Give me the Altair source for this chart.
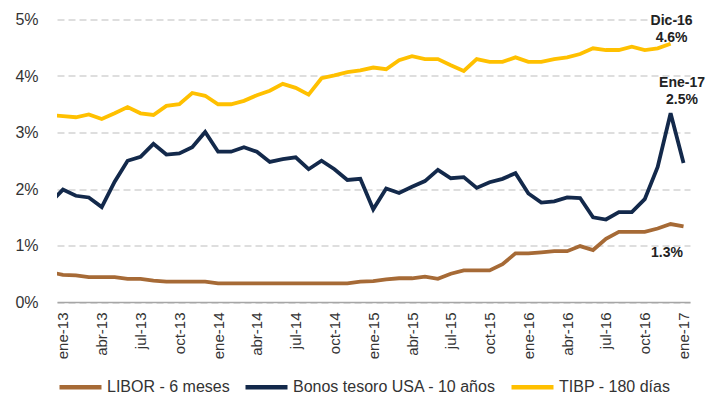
import altair as alt
import pandas as pd

# month index: -1 = dic-12 (clipped at left edge), 0 = ene-13 ... 48 = ene-17
month_idx = list(range(-1, 49))

libor = [0.53, 0.48, 0.47, 0.44, 0.44, 0.44, 0.41, 0.41, 0.38, 0.36,
         0.36, 0.36, 0.36, 0.33, 0.33, 0.33, 0.33, 0.33, 0.33, 0.33,
         0.33, 0.33, 0.33, 0.33, 0.36, 0.37, 0.40, 0.42, 0.42, 0.45,
         0.41, 0.50, 0.56, 0.56, 0.56, 0.67, 0.86, 0.86, 0.88, 0.90,
         0.90, 0.99, 0.92, 1.12, 1.24, 1.24, 1.24, 1.30, 1.38, 1.34]

bonos = [1.75, 1.99, 1.88, 1.85, 1.68, 2.13, 2.50, 2.57, 2.80, 2.61,
         2.63, 2.74, 3.01, 2.66, 2.66, 2.74, 2.66, 2.48, 2.53, 2.56,
         2.35, 2.50, 2.35, 2.16, 2.18, 1.64, 2.01, 1.93, 2.04, 2.14,
         2.34, 2.19, 2.21, 2.02, 2.12, 2.18, 2.28, 1.92, 1.76, 1.78,
         1.85, 1.84, 1.50, 1.46, 1.59, 1.59, 1.82, 2.39, 3.34, 2.46]

tibp = [3.31, 3.29, 3.27, 3.32, 3.24, 3.34, 3.45, 3.34, 3.31, 3.47,
        3.50, 3.70, 3.65, 3.50, 3.50, 3.56, 3.66, 3.74, 3.86, 3.79,
        3.67, 3.96, 4.01, 4.07, 4.10, 4.15, 4.12, 4.28, 4.35, 4.30,
        4.30, 4.19, 4.09, 4.30, 4.25, 4.25, 4.33, 4.25, 4.25, 4.30,
        4.33, 4.39, 4.49, 4.46, 4.46, 4.52, 4.46, 4.49, 4.57, None]

series_names = ["LIBOR - 6 meses", "Bonos tesoro USA - 10 años", "TIBP - 180 días"]
series_colors = ["#A66A36", "#13294B", "#FFC000"]

tick_positions = list(range(0, 49, 3))
tick_labels = ["ene-13", "abr-13", "jul-13", "oct-13", "ene-14", "abr-14",
               "jul-14", "oct-14", "ene-15", "abr-15", "jul-15", "oct-15",
               "ene-16", "abr-16", "jul-16", "oct-16", "ene-17"]
y_ticks = [0, 1, 2, 3, 4, 5]

rows = []
for name, vals in zip(series_names, [libor, bonos, tibp]):
    for i, v in zip(month_idx, vals):
        if v is not None:
            rows.append({"i": i, "v": v, "serie": name})
df = pd.DataFrame(rows)

FONT = "Liberation Sans, Arial, sans-serif"
label_expr = "[" + ",".join(f"'{t}'" for t in tick_labels) + "][round(datum.value/3)]"

x_scale = alt.Scale(domain=[-0.46, 48.5], nice=False, zero=False)
y_scale = alt.Scale(domain=[0, 5], nice=False)

x_axis = alt.Axis(values=tick_positions, labelExpr=label_expr, title=None,
                  labelAngle=270, labelFontSize=15, labelFont=FONT,
                  labelColor="#333333", labelPadding=10, ticks=False,
                  grid=False, domainColor="#A6A6A6", domainWidth=1.5,
                  labelOverlap=False, labelBound=False)
y_axis = alt.Axis(values=y_ticks, labelExpr="datum.value + '%'", title=None,
                  labelFontSize=16, labelFont=FONT, labelColor="#333333",
                  labelPadding=19, ticks=False, domain=False,
                  grid=True, gridDash=[7, 4], gridColor="#D4D4D4",
                  gridWidth=1.3)

lines = alt.Chart(df).mark_line(strokeWidth=3.8, clip=True, strokeJoin="miter").encode(
    x=alt.X("i:Q", scale=x_scale, axis=x_axis),
    y=alt.Y("v:Q", scale=y_scale, axis=y_axis),
    color=alt.Color("serie:N",
                    scale=alt.Scale(domain=series_names, range=series_colors),
                    sort=series_names,
                    legend=alt.Legend(orient="none", legendX=0, legendY=344,
                                      direction="horizontal", title=None,
                                      symbolType="stroke", symbolSize=1764,
                                      symbolStrokeWidth=4.5, labelFontSize=16,
                                      labelFont=FONT, labelColor="#333333",
                                      labelOffset=3, columnPadding=6,
                                      labelLimit=400)),
    order="i:Q",
)

def ann(text, i, v, dx, dy):
    return alt.Chart(pd.DataFrame({"a": [0]})).mark_text(
        text=text, font=FONT, fontSize=14, fontWeight="bold", color="#222222",
        align="center", baseline="middle", dx=dx, dy=dy
    ).encode(x=alt.X(datum=i, scale=x_scale, axis=x_axis),
             y=alt.Y(datum=v, scale=y_scale, axis=y_axis))

annotations = [
    ann("Dic-16", 47, tibp[48], 1, -23),
    ann("4.6%", 47, tibp[48], 1, -6),
    ann("Ene-17", 48, bonos[49], -1.5, -80),
    ann("2.5%", 48, bonos[49], -1.5, -63),
    ann("1.3%", 48, libor[49], -16.5, 27),
]

chart = alt.layer(lines, *annotations).properties(
    width=633, height=282.5,
    autosize=alt.AutoSizeParams(type="none"),
    padding={"left": 49, "top": 11.5, "right": 23, "bottom": 95},
).configure_axisX(labelOverlap=False).configure_view(stroke=None)

chart.save("out.html", embed_options={"renderer": "svg", "actions": False})
